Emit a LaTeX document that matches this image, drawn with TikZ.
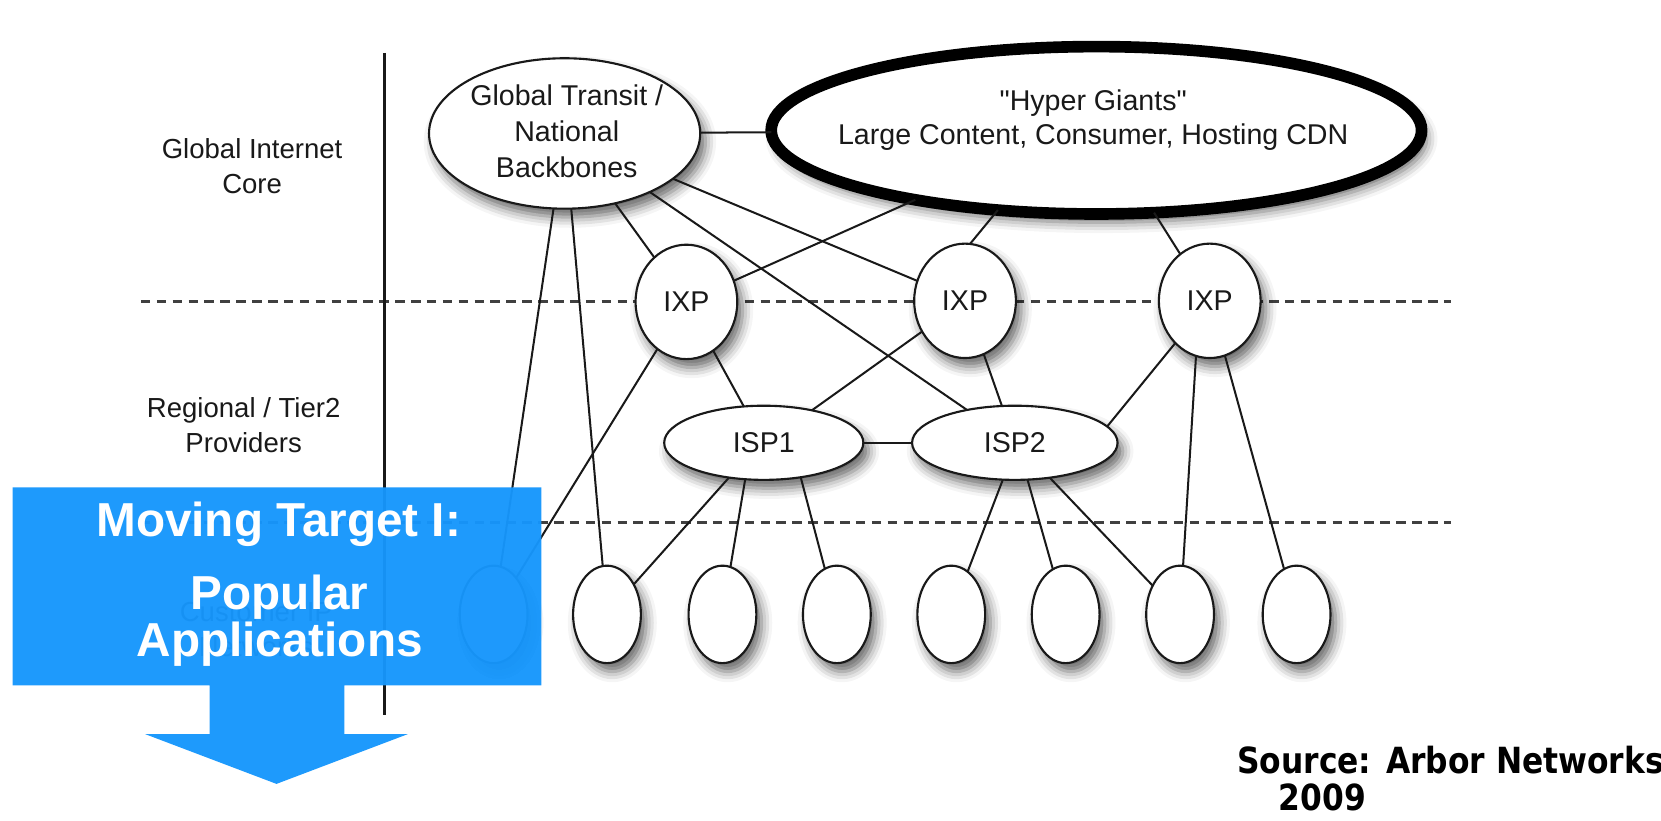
\documentclass[tikz,border=0pt]{standalone}
\usepackage{fontspec}
\setmainfont{Liberation Sans}
\newfontfamily\plainquotes[Ligatures=TeXOff]{Liberation Sans}
\newfontfamily\srcfont[FakeStretch=0.87]{DejaVu Sans}
\usetikzlibrary{shapes.geometric,shadows.blur}
\definecolor{banner}{RGB}{22,150,252}
\definecolor{ink}{RGB}{25,25,25}

\begin{document}
\begin{tikzpicture}[x=0.5pt,y=-0.5pt,
  every node/.style={inner sep=0pt, outer sep=0pt},
  oval/.style={ellipse, draw=ink, line width=1pt, fill=white,
    blur shadow={shadow xshift=2.5pt, shadow yshift=-4pt,
                 shadow blur radius=5pt, shadow opacity=60}},
  lbl/.style={font=\fontsize{13.5}{17}\selectfont, text=ink, align=center},
  side/.style={font=\fontsize{13}{16.5}\selectfont, text=ink, align=center},
  link/.style={line width=0.95pt, draw=ink},
  tier/.style={line width=1.4pt, draw=black!75, dash pattern=on 4.5pt off 3pt},
  divider/.style={line width=1.2pt, draw=ink},
  headline/.style={font=\bfseries\fontsize{22.5}{18.5}\selectfont, text=white, align=center},
]
\useasboundingbox (0,0) rectangle (1568,775);

% tier boundaries and the label column divider
\coordinate (core-w) at (133,285);  \coordinate (core-e) at (1370,285);
\coordinate (edge-w) at (133,493);  \coordinate (edge-e) at (1370,493);
\coordinate (col-top) at (363,50);  \coordinate (col-bot) at (363,675);
\draw[tier] (core-w) -- (core-e);
\draw[tier] (edge-w) -- (edge-e);
\draw[divider] (col-top) -- (col-bot);

% tier labels
\node[side] (core-label) at (238,156.5) {Global Internet\\Core};
\node[side] (tier2-label) at (230,401.5) {Regional / Tier2\\Providers};
\node[side] (cust-label) at (242,594) {Customer IP\\Networks};

% core
\node[oval, minimum width=128pt, minimum height=71pt] (gt) at (533,126) {};
\node[lbl] (gt-text) at (535,124) {Global Transit /\\National\\Backbones};
\node[oval, draw=black, line width=5.5pt, minimum width=307pt, minimum height=79pt] (hg) at (1035,123) {};
\node[lbl, font=\plainquotes\fontsize{13.5}{16}\selectfont] (hg-text) at (1032,113) {"Hyper Giants"\\Large Content, Consumer, Hosting CDN};

% exchange points
\node[oval, lbl, minimum width=48pt, minimum height=54pt] (ixp1) at (648,285) {IXP};
\node[oval, lbl, minimum width=48pt, minimum height=54pt] (ixp2) at (911,284) {IXP};
\node[oval, lbl, minimum width=48pt, minimum height=54pt] (ixp3) at (1142,284) {IXP};

% regional providers
\node[oval, lbl, minimum width=94pt, minimum height=35pt] (isp1) at (721,418) {ISP1};
\node[oval, lbl, minimum width=97pt, minimum height=35pt] (isp2) at (958,418) {ISP2};

% customer networks
\foreach \i/\x in {1/466,2/573,3/682,4/790,5/898,6/1006,7/1114,8/1224}
  \node[oval, minimum width=32pt, minimum height=46pt] (c\i) at (\x,580) {};

% links
\draw[link] (gt) -- (hg);
\draw[link] (gt) -- (c1);
\draw[link] (gt) -- (c2);
\draw[link] (gt) -- (ixp1);
\draw[link] (gt) -- (ixp2);
\draw[link] (gt) -- (isp2);
\draw[link] (hg.201) -- (ixp1);
\draw[link] (hg.219) -- (ixp2.85);
\draw[link] (hg.-55) -- (ixp3);
\draw[link] (ixp1) -- (isp1);
\draw[link] (ixp1) -- (c1);
\draw[link] (ixp2) -- (isp1.34);
\draw[link] (ixp2) -- (isp2);
\draw[link] (ixp3) -- (isp2.10);
\draw[link] (ixp3.256) -- (c7);
\draw[link] (ixp3) -- (c8);
\draw[link] (isp1) -- (isp2);
\draw[link] (isp1.225) -- (c2);
\draw[link] (isp1.243) -- (c3);
\draw[link] (isp1.-43) -- (c4);
\draw[link] (isp2.252) -- (c5);
\draw[link] (isp2.-71) -- (c6);
\draw[link] (isp2.-45) -- (c7);

% banner arrow, laid over the customer tier
\fill[banner, fill opacity=0.965]
  (12,460) -- (511,460) -- (511,647) -- (325,647) -- (325,693) -- (385,693)
  -- (261,740) -- (137,693) -- (198,693) -- (198,647) -- (12,647) -- cycle;
\node[headline] (goal-title) at (263,495) {Moving Target I:};
\node[headline] (goal-apps) at (264,586) {Popular\\Applications};

% source note
\node[anchor=base west, font=\srcfont\bfseries\fontsize{17}{20}\selectfont] (src) at (1168,730) {Source: Arbor Networks};
\node[anchor=base west, font=\srcfont\bfseries\fontsize{17}{20}\selectfont] (src-year) at (1207,765) {2009};
\end{tikzpicture}
\end{document}
